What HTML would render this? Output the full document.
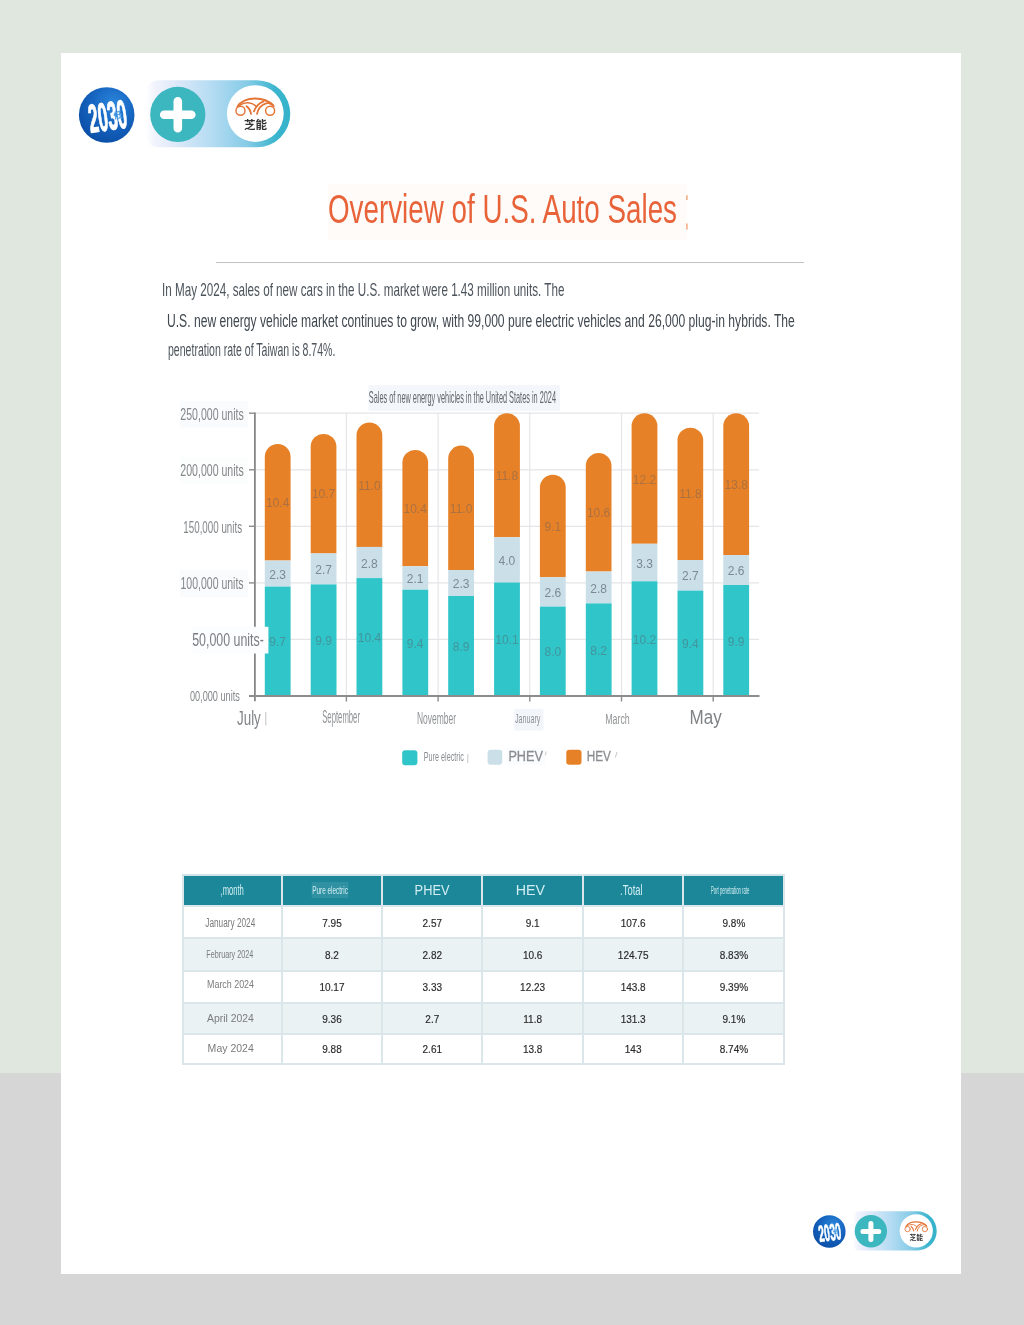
<!DOCTYPE html>
<html lang="en"><head><meta charset="utf-8"><title>Overview of U.S. Auto Sales</title>
<style>
html,body{margin:0;padding:0}
body{width:1024px;height:1325px;position:relative;overflow:hidden;background:#dfe7df;font-family:"Liberation Sans","Noto Sans CJK SC",sans-serif}
.gray{position:absolute;left:0;top:1073px;width:1024px;height:252px;background:#d6d6d6}
.page{position:absolute;left:61px;top:53px;width:900px;height:1221px;background:#fff}
.layer{position:absolute;left:0;top:0;width:1024px;height:1325px}
svg text{font-family:"Liberation Sans","Noto Sans CJK SC",sans-serif}
.titlebg{position:absolute;left:327.8px;top:183.5px;width:359.5px;height:56px;background:#fefbf8}
h1,p{margin:0;padding:0;position:absolute;white-space:nowrap;transform-origin:0 50%;font-weight:normal}
.hr{position:absolute;left:216px;top:261.6px;width:588px;height:1.5px;background:#bfc3c4}
.tb{position:absolute;left:182.2px;top:873.6px;border-collapse:collapse;table-layout:fixed;width:603.3px}
.tb th,.tb td{border:2px solid #dbe6eb;padding:0;text-align:center;vertical-align:middle;font-size:10px;color:#2a2a2a;font-weight:normal;overflow:hidden;white-space:nowrap}
.tb th{background:#1b8799;color:#d3eef2;border-top-color:#cfe3e8}
.tb td{background:#fff;-webkit-text-stroke:0.15px #2a2a2a}
.tb td span.m{-webkit-text-stroke:0}
.tb td span.v{top:1px}
.tb tr.r2 td,.tb tr.r4 td{background:#eaf2f4}
.tb span{display:inline-block;white-space:nowrap;position:relative}
.tb span.m{color:#7b7b7b}
.tb span.pe{background:rgba(255,255,255,.09);padding:2px 1px}
</style></head><body>
<div class="gray"></div>
<div class="page"></div>
<div class="titlebg"></div>
<h1 class="p" style="left:328.4px;top:189.44px;font-size:40px;line-height:40px;color:#e8633a;transform:scaleX(0.6946)">Overview of U.S. Auto Sales</h1>
<div class="hr"></div>
<p class="p" style="left:161.8px;top:279.92px;font-size:19px;line-height:19px;color:#4c545c;transform:scaleX(0.6139)">In May 2024, sales of new cars in the U.S. market were 1.43 million units. The</p>
<p class="p" style="left:166.5px;top:312.09px;font-size:18.8px;line-height:18.8px;color:#3f474f;transform:scaleX(0.6455)">U.S. new energy vehicle market continues to grow, with 99,000 pure electric vehicles and 26,000 plug-in hybrids. The</p>
<p class="p" style="left:168.3px;top:340.86px;font-size:18px;line-height:18px;color:#4c545c;transform:scaleX(0.5856)">penetration rate of Taiwan is 8.74%.</p>
<svg class="layer" width="1024" height="1325" viewBox="0 0 1024 1325">
<defs>
<linearGradient id="pillg" gradientUnits="userSpaceOnUse" x1="146" y1="0" x2="290.3" y2="0"><stop offset="0" stop-color="#eef0fb" stop-opacity="0"/><stop offset="0.06" stop-color="#ecf0fc" stop-opacity="0.75"/><stop offset="0.16" stop-color="#e4ebfa"/><stop offset="0.45" stop-color="#b5dcf3"/><stop offset="0.7" stop-color="#86cbe6"/><stop offset="0.9" stop-color="#3ab5cd"/><stop offset="1" stop-color="#35b3cb"/></linearGradient>
<radialGradient id="blueg" cx="0.62" cy="0.3" r="0.75"><stop offset="0" stop-color="#2c86dc"/><stop offset="0.55" stop-color="#1462bd"/><stop offset="1" stop-color="#0b4ea6"/></radialGradient>
</defs>
<g transform="translate(0,0) scale(1)">
<path d="M160 80.3H256.8A33.5 33.5 0 0 1 256.8 147.3H160Q146 147.3 146 133.3V94.3Q146 80.3 160 80.3Z" fill="url(#pillg)"/>
<circle cx="106.7" cy="115" r="27.8" fill="url(#blueg)"/>
<g transform="rotate(-8 107 115)"><text x="88.2" y="130.3" font-size="40" fill="#fff" textLength="38.2" lengthAdjust="spacingAndGlyphs" font-weight="bold" stroke="#fff" stroke-width="1.1" stroke-linejoin="miter">2030</text><text x="113.0" y="120.0" font-size="9" fill="#4aa0e8" textLength="9.0" lengthAdjust="spacingAndGlyphs" font-weight="bold" font-family="'Liberation Sans','Noto Sans CJK SC',sans-serif">低</text></g>
<circle cx="177.8" cy="114.4" r="27.6" fill="#3db7bf"/>
<path d="M177.8 101.3V128.3M164.2 114.8H191.3" stroke="#fff" stroke-width="8.6" stroke-linecap="round" fill="none"/>
<circle cx="255.3" cy="113.6" r="28.4" fill="#fff"/>
<g fill="none" stroke="#e47436" stroke-width="1.45" stroke-linecap="round"><circle cx="240.5" cy="110.8" r="4.5"/><circle cx="270.1" cy="110.8" r="4.5"/><path d="M237.6 106.6C240.5 101.5 247.5 98.5 255 98.5C262 98.6 268.5 100.6 273 105.2" stroke-width="2"/><path d="M240 105.2C245 101.6 252 102 256.4 106.6" stroke-width="1.5"/><path d="M246.6 106.2C249 108 250.6 110.8 251 113.8" stroke-width="1.9"/><path d="M254 111.4C255.5 106.8 259 103.2 263.6 101.4" stroke-width="1.8"/><path d="M257 114C258 109 261.2 105 266 103.4C269 102.6 271.8 103.6 273.8 106" stroke-width="1.7"/></g>
<text x="244.0" y="128.6" font-size="11" fill="#333" textLength="23.0" lengthAdjust="spacingAndGlyphs" font-weight="bold" font-family="'Liberation Sans','Noto Sans CJK SC',sans-serif">芝能</text>
</g>
<g transform="translate(766.8805,1164.3249999999998) scale(0.585)">
<path d="M160 80.3H256.8A33.5 33.5 0 0 1 256.8 147.3H160Q146 147.3 146 133.3V94.3Q146 80.3 160 80.3Z" fill="url(#pillg)"/>
<circle cx="106.7" cy="115" r="27.8" fill="url(#blueg)"/>
<g transform="rotate(-8 107 115)"><text x="88.2" y="130.3" font-size="40" fill="#fff" textLength="38.2" lengthAdjust="spacingAndGlyphs" font-weight="bold" stroke="#fff" stroke-width="1.1" stroke-linejoin="miter">2030</text><text x="113.0" y="120.0" font-size="9" fill="#4aa0e8" textLength="9.0" lengthAdjust="spacingAndGlyphs" font-weight="bold" font-family="'Liberation Sans','Noto Sans CJK SC',sans-serif">低</text></g>
<circle cx="177.8" cy="114.4" r="27.6" fill="#3db7bf"/>
<path d="M177.8 101.3V128.3M164.2 114.8H191.3" stroke="#fff" stroke-width="8.6" stroke-linecap="round" fill="none"/>
<circle cx="255.3" cy="113.6" r="28.4" fill="#fff"/>
<g fill="none" stroke="#e47436" stroke-width="1.45" stroke-linecap="round"><circle cx="240.5" cy="110.8" r="4.5"/><circle cx="270.1" cy="110.8" r="4.5"/><path d="M237.6 106.6C240.5 101.5 247.5 98.5 255 98.5C262 98.6 268.5 100.6 273 105.2" stroke-width="2"/><path d="M240 105.2C245 101.6 252 102 256.4 106.6" stroke-width="1.5"/><path d="M246.6 106.2C249 108 250.6 110.8 251 113.8" stroke-width="1.9"/><path d="M254 111.4C255.5 106.8 259 103.2 263.6 101.4" stroke-width="1.8"/><path d="M257 114C258 109 261.2 105 266 103.4C269 102.6 271.8 103.6 273.8 106" stroke-width="1.7"/></g>
<text x="244.0" y="128.6" font-size="11" fill="#333" textLength="23.0" lengthAdjust="spacingAndGlyphs" font-weight="bold" font-family="'Liberation Sans','Noto Sans CJK SC',sans-serif">芝能</text>
</g>
<path d="M686.9 195.3V200M686.9 223.4V229.6" stroke="#f0a577" stroke-width="1.4"/>
<rect x="368.5" y="385.2" width="191.6" height="25.6" fill="#f3f6fa"/>
<path d="M255 413.2H759" stroke="#e5e5e9" stroke-width="1.2"/>
<path d="M255 469.8H759" stroke="#e5e5e9" stroke-width="1.2"/>
<path d="M255 526.3H759" stroke="#e5e5e9" stroke-width="1.2"/>
<path d="M255 582.9H759" stroke="#e5e5e9" stroke-width="1.2"/>
<path d="M255 639.4H759" stroke="#e5e5e9" stroke-width="1.2"/>
<path d="M346.4 413V696" stroke="#e5e5e9" stroke-width="1.2"/>
<path d="M438.1 413V696" stroke="#e5e5e9" stroke-width="1.2"/>
<path d="M529.8 413V696" stroke="#e5e5e9" stroke-width="1.2"/>
<path d="M621.5 413V696" stroke="#e5e5e9" stroke-width="1.2"/>
<path d="M713.2 413V696" stroke="#e5e5e9" stroke-width="1.2"/>
<path d="M264.8 560.6V456.9A12.9 12.9 0 0 1 290.6 456.9V560.6Z" fill="#e78127"/>
<rect x="264.8" y="560.6" width="25.8" height="26.0" fill="#cbdfe9"/>
<rect x="264.8" y="586.6" width="25.8" height="109.4" fill="#2fc5c9"/>
<text x="277.7" y="507.3" font-size="12" fill="#5a5a64" text-anchor="middle" fill-opacity="0.42">10.4</text>
<text x="277.7" y="578.6" font-size="12" fill="#5a6570" text-anchor="middle" fill-opacity="0.7">2.3</text>
<text x="277.7" y="646.3" font-size="12" fill="#5a5a64" text-anchor="middle" fill-opacity="0.45">9.7</text>
<path d="M310.7 553.4V445.7A12.9 12.9 0 0 1 336.4 445.7V553.4Z" fill="#e78127"/>
<rect x="310.7" y="553.4" width="25.8" height="31.0" fill="#cbdfe9"/>
<rect x="310.7" y="584.4" width="25.8" height="111.6" fill="#2fc5c9"/>
<text x="323.6" y="498.1" font-size="12" fill="#5a5a64" text-anchor="middle" fill-opacity="0.42">10.7</text>
<text x="323.6" y="573.9" font-size="12" fill="#5a6570" text-anchor="middle" fill-opacity="0.7">2.7</text>
<text x="323.6" y="645.2" font-size="12" fill="#5a5a64" text-anchor="middle" fill-opacity="0.45">9.9</text>
<path d="M356.5 546.9V435.4A12.9 12.9 0 0 1 382.3 435.4V546.9Z" fill="#e78127"/>
<rect x="356.5" y="546.9" width="25.8" height="31.2" fill="#cbdfe9"/>
<rect x="356.5" y="578.1" width="25.8" height="117.9" fill="#2fc5c9"/>
<text x="369.4" y="489.7" font-size="12" fill="#5a5a64" text-anchor="middle" fill-opacity="0.42">11.0</text>
<text x="369.4" y="567.5" font-size="12" fill="#5a6570" text-anchor="middle" fill-opacity="0.7">2.8</text>
<text x="369.4" y="642.0" font-size="12" fill="#5a5a64" text-anchor="middle" fill-opacity="0.45">10.4</text>
<path d="M402.4 566.3V461.7A12.9 12.9 0 0 1 428.1 461.7V566.3Z" fill="#e78127"/>
<rect x="402.4" y="566.3" width="25.8" height="23.4" fill="#cbdfe9"/>
<rect x="402.4" y="589.7" width="25.8" height="106.3" fill="#2fc5c9"/>
<text x="415.2" y="512.5" font-size="12" fill="#5a5a64" text-anchor="middle" fill-opacity="0.42">10.4</text>
<text x="415.2" y="583.0" font-size="12" fill="#5a6570" text-anchor="middle" fill-opacity="0.7">2.1</text>
<text x="415.2" y="647.9" font-size="12" fill="#5a5a64" text-anchor="middle" fill-opacity="0.45">9.4</text>
<path d="M448.2 570.0V458.5A12.9 12.9 0 0 1 474.0 458.5V570.0Z" fill="#e78127"/>
<rect x="448.2" y="570.0" width="25.8" height="26.0" fill="#cbdfe9"/>
<rect x="448.2" y="596.0" width="25.8" height="100.0" fill="#2fc5c9"/>
<text x="461.1" y="512.8" font-size="12" fill="#5a5a64" text-anchor="middle" fill-opacity="0.42">11.0</text>
<text x="461.1" y="588.0" font-size="12" fill="#5a6570" text-anchor="middle" fill-opacity="0.7">2.3</text>
<text x="461.1" y="651.0" font-size="12" fill="#5a5a64" text-anchor="middle" fill-opacity="0.45">8.9</text>
<path d="M494.1 537.2V426.1A12.9 12.9 0 0 1 519.9 426.1V537.2Z" fill="#e78127"/>
<rect x="494.1" y="537.2" width="25.8" height="45.3" fill="#cbdfe9"/>
<rect x="494.1" y="582.5" width="25.8" height="113.5" fill="#2fc5c9"/>
<text x="506.9" y="480.2" font-size="12" fill="#5a5a64" text-anchor="middle" fill-opacity="0.42">11.8</text>
<text x="506.9" y="564.9" font-size="12" fill="#5a6570" text-anchor="middle" fill-opacity="0.7">4.0</text>
<text x="506.9" y="644.2" font-size="12" fill="#5a5a64" text-anchor="middle" fill-opacity="0.45">10.1</text>
<path d="M539.9 577.2V487.6A12.9 12.9 0 0 1 565.7 487.6V577.2Z" fill="#e78127"/>
<rect x="539.9" y="577.2" width="25.8" height="29.4" fill="#cbdfe9"/>
<rect x="539.9" y="606.6" width="25.8" height="89.4" fill="#2fc5c9"/>
<text x="552.8" y="531.0" font-size="12" fill="#5a5a64" text-anchor="middle" fill-opacity="0.42">9.1</text>
<text x="552.8" y="596.9" font-size="12" fill="#5a6570" text-anchor="middle" fill-opacity="0.7">2.6</text>
<text x="552.8" y="656.3" font-size="12" fill="#5a5a64" text-anchor="middle" fill-opacity="0.45">8.0</text>
<path d="M585.8 571.6V464.8A12.9 12.9 0 0 1 611.5 464.8V571.6Z" fill="#e78127"/>
<rect x="585.8" y="571.6" width="25.8" height="31.8" fill="#cbdfe9"/>
<rect x="585.8" y="603.4" width="25.8" height="92.6" fill="#2fc5c9"/>
<text x="598.6" y="516.8" font-size="12" fill="#5a5a64" text-anchor="middle" fill-opacity="0.42">10.6</text>
<text x="598.6" y="592.5" font-size="12" fill="#5a6570" text-anchor="middle" fill-opacity="0.7">2.8</text>
<text x="598.6" y="654.7" font-size="12" fill="#5a5a64" text-anchor="middle" fill-opacity="0.45">8.2</text>
<path d="M631.6 543.8V426.1A12.9 12.9 0 0 1 657.4 426.1V543.8Z" fill="#e78127"/>
<rect x="631.6" y="543.8" width="25.8" height="37.5" fill="#cbdfe9"/>
<rect x="631.6" y="581.3" width="25.8" height="114.7" fill="#2fc5c9"/>
<text x="644.5" y="483.5" font-size="12" fill="#5a5a64" text-anchor="middle" fill-opacity="0.42">12.2</text>
<text x="644.5" y="567.5" font-size="12" fill="#5a6570" text-anchor="middle" fill-opacity="0.7">3.3</text>
<text x="644.5" y="643.6" font-size="12" fill="#5a5a64" text-anchor="middle" fill-opacity="0.45">10.2</text>
<path d="M677.5 560.0V439.5A12.9 12.9 0 0 1 703.2 439.5V560.0Z" fill="#e78127"/>
<rect x="677.5" y="560.0" width="25.8" height="30.6" fill="#cbdfe9"/>
<rect x="677.5" y="590.6" width="25.8" height="105.4" fill="#2fc5c9"/>
<text x="690.4" y="498.3" font-size="12" fill="#5a5a64" text-anchor="middle" fill-opacity="0.42">11.8</text>
<text x="690.4" y="580.3" font-size="12" fill="#5a6570" text-anchor="middle" fill-opacity="0.7">2.7</text>
<text x="690.4" y="648.3" font-size="12" fill="#5a5a64" text-anchor="middle" fill-opacity="0.45">9.4</text>
<path d="M723.3 555.0V426.1A12.9 12.9 0 0 1 749.1 426.1V555.0Z" fill="#e78127"/>
<rect x="723.3" y="555.0" width="25.8" height="30.0" fill="#cbdfe9"/>
<rect x="723.3" y="585.0" width="25.8" height="111.0" fill="#2fc5c9"/>
<text x="736.2" y="489.1" font-size="12" fill="#5a5a64" text-anchor="middle" fill-opacity="0.42">13.8</text>
<text x="736.2" y="575.0" font-size="12" fill="#5a6570" text-anchor="middle" fill-opacity="0.7">2.6</text>
<text x="736.2" y="645.5" font-size="12" fill="#5a5a64" text-anchor="middle" fill-opacity="0.45">9.9</text>
<path d="M254.9 412.5V701.3" stroke="#858789" stroke-width="1.8"/>
<path d="M249 696H759.5" stroke="#8c8c8c" stroke-width="1.8"/>
<path d="M249 413.2H255" stroke="#8c8c8c" stroke-width="1.4"/>
<path d="M249 469.8H255" stroke="#8c8c8c" stroke-width="1.4"/>
<path d="M249 526.3H255" stroke="#8c8c8c" stroke-width="1.4"/>
<path d="M249 582.9H255" stroke="#8c8c8c" stroke-width="1.4"/>
<path d="M249 639.4H255" stroke="#8c8c8c" stroke-width="1.4"/>
<path d="M346.4 696V701.5" stroke="#8c8c8c" stroke-width="1.4"/>
<path d="M438.1 696V701.5" stroke="#8c8c8c" stroke-width="1.4"/>
<path d="M529.8 696V701.5" stroke="#8c8c8c" stroke-width="1.4"/>
<path d="M621.5 696V701.5" stroke="#8c8c8c" stroke-width="1.4"/>
<path d="M713.2 696V701.5" stroke="#8c8c8c" stroke-width="1.4"/>
<rect x="180" y="400.7" width="68" height="26.7" fill="#fafbfc"/>
<rect x="180" y="457" width="68" height="27" fill="#fcfdfd"/>
<rect x="180" y="570" width="68" height="27" fill="#fafbfc"/>
<rect x="191.6" y="626.8" width="76.8" height="26.7" fill="#fcfdfe"/>
<text x="180.3" y="419.6" font-size="17" fill="#84878a" textLength="63.5" lengthAdjust="spacingAndGlyphs">250,000 units</text>
<text x="180.3" y="476.0" font-size="17" fill="#84878a" textLength="63.5" lengthAdjust="spacingAndGlyphs">200,000 units</text>
<text x="183.3" y="532.7" font-size="17" fill="#84878a" textLength="58.8" lengthAdjust="spacingAndGlyphs">150,000 units</text>
<text x="180.5" y="589.0" font-size="17" fill="#84878a" textLength="63.1" lengthAdjust="spacingAndGlyphs">100,000 units</text>
<text x="192.2" y="645.6" font-size="17.8" fill="#7a7d80" textLength="71.7" lengthAdjust="spacingAndGlyphs">50,000 units-</text>
<text x="190.0" y="701.0" font-size="15.5" fill="#84878a" textLength="49.8" lengthAdjust="spacingAndGlyphs">00,000 units</text>
<rect x="514.3" y="708.9" width="29.2" height="21.6" fill="#f2f5f9"/>
<text x="237.0" y="724.5" font-size="20.7" fill="#808386" textLength="23.8" lengthAdjust="spacingAndGlyphs">July</text>
<path d="M265.8 712V725.5" stroke="#c4c4c4" stroke-width="1"/>
<text x="322.2" y="723.4" font-size="17.9" fill="#909396" textLength="37.8" lengthAdjust="spacingAndGlyphs">September</text>
<text x="417.0" y="723.7" font-size="15.8" fill="#909396" textLength="39.1" lengthAdjust="spacingAndGlyphs">November</text>
<text x="514.9" y="723.4" font-size="13" fill="#909396" textLength="25.5" lengthAdjust="spacingAndGlyphs">January</text>
<text x="605.2" y="723.6" font-size="15.3" fill="#909396" textLength="24.6" lengthAdjust="spacingAndGlyphs">March</text>
<text x="689.5" y="724.1" font-size="19.6" fill="#808386" textLength="32.2" lengthAdjust="spacingAndGlyphs">May</text>
<text x="368.8" y="403.0" font-size="16.6" fill="#62666a" textLength="187.2" lengthAdjust="spacingAndGlyphs">Sales of new energy vehicles in the United States in 2024</text>
<rect x="402.2" y="750.3" width="15.2" height="15" rx="3" fill="#2fc5c9"/>
<rect x="487.6" y="749.8" width="14.7" height="15" rx="3" fill="#cbdfe9"/>
<rect x="566.3" y="749.8" width="15.2" height="15" rx="3" fill="#e78127"/>
<text x="423.8" y="761.4" font-size="13.7" fill="#8a8d90" textLength="40.1" lengthAdjust="spacingAndGlyphs">Pure electric</text>
<path d="M467.8 754V763" stroke="#c8c8c8" stroke-width="1"/>
<rect x="507" y="748" width="38" height="17" fill="#fafcfd"/>
<text x="508.4" y="761.0" font-size="14" fill="#8a8d90" textLength="34.6" lengthAdjust="spacingAndGlyphs" stroke="#8a8d90" stroke-width="0.3">PHEV</text>
<path d="M546.2 751.5L545.4 755.5" stroke="#c8c8c8" stroke-width="1"/>
<text x="586.7" y="761.0" font-size="14" fill="#8a8d90" textLength="24.2" lengthAdjust="spacingAndGlyphs" stroke="#8a8d90" stroke-width="0.3">HEV</text>
<path d="M617 752L615.3 757.5" stroke="#c8c8c8" stroke-width="1"/>
</svg>
<table class="tb">
<colgroup><col style="width:98.5px"><col style="width:100.6px"><col style="width:100px"><col style="width:100.7px"><col style="width:100.4px"><col style="width:101.1px"></colgroup>
<thead><tr>
<th style="height:29.7px"><span class="c" style="font-size:14.5px;left:0px;transform:scaleX(0.526)">,month</span></th>
<th style="height:29.7px"><span class="c pe" style="font-size:10.8px;left:-2.3px;transform:scaleX(0.595)">Pure electric</span></th>
<th style="height:29.7px"><span class="c" style="font-size:14px;left:0px;transform:scaleX(0.915)">PHEV</span></th>
<th style="height:29.7px"><span class="c" style="font-size:14px;left:-2.2px;transform:scaleX(1.018)">HEV</span></th>
<th style="height:29.7px"><span class="c" style="font-size:14.5px;left:-1.5px;transform:scaleX(0.649)">.Total</span></th>
<th style="height:29.7px"><span class="c" style="font-size:11px;left:-4px;transform:scaleX(0.381)">Port penetration rate</span></th>
</tr></thead><tbody>
<tr class="r1"><td style="height:30.0px"><span class="c m" style="font-size:12.3px;left:-2.6px;top:0.4px;transform:scaleX(0.671)">January 2024</span></td><td><span class="v">7.95</span></td><td><span class="v">2.57</span></td><td><span class="v">9.1</span></td><td><span class="v">107.6</span></td><td><span class="v">9.8%</span></td></tr>
<tr class="r2"><td style="height:30.9px"><span class="c m" style="font-size:11px;left:-2.2px;top:-1.2px;transform:scaleX(0.656)">February 2024</span></td><td><span class="v">8.2</span></td><td><span class="v">2.82</span></td><td><span class="v">10.6</span></td><td><span class="v">124.75</span></td><td><span class="v">8.83%</span></td></tr>
<tr class="r3"><td style="height:29.4px"><span class="c m" style="font-size:10.8px;left:-1.9px;top:-2.5px;transform:scaleX(0.824)">March 2024</span></td><td><span class="v">10.17</span></td><td><span class="v">3.33</span></td><td><span class="v">12.23</span></td><td><span class="v">143.8</span></td><td><span class="v">9.39%</span></td></tr>
<tr class="r4"><td style="height:29.7px"><span class="c m" style="font-size:11.3px;left:-2.0px;top:-0.9px;transform:scaleX(0.920)">April 2024</span></td><td><span class="v">9.36</span></td><td><span class="v">2.7</span></td><td><span class="v">11.8</span></td><td><span class="v">131.3</span></td><td><span class="v">9.1%</span></td></tr>
<tr class="r5"><td style="height:27.3px"><span class="c m" style="font-size:10.8px;left:-1.7px;top:-0.8px;transform:scaleX(0.974)">May 2024</span></td><td><span class="v">9.88</span></td><td><span class="v">2.61</span></td><td><span class="v">13.8</span></td><td><span class="v">143</span></td><td><span class="v">8.74%</span></td></tr>
</tbody></table>
</body></html>
